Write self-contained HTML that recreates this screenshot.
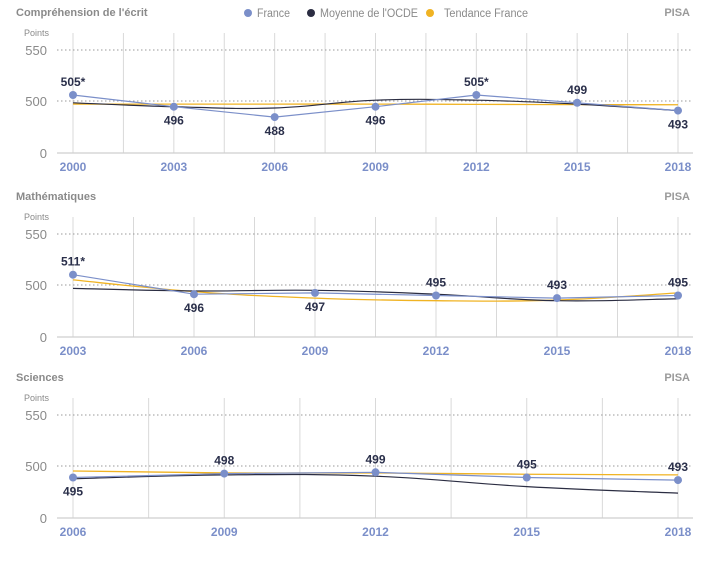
<!DOCTYPE html>
<html><head><meta charset="utf-8"><style>
body{margin:0;background:#fff;width:709px;height:562px;overflow:hidden;font-family:"Liberation Sans",sans-serif}
svg text{font-family:"Liberation Sans",sans-serif}
</style></head><body>
<svg id="c" width="709" height="562"></svg>
<script>
const readingYears=[2000,2003,2006,2009,2012,2015,2018];
const readingFrance=[505,496,488,496,505,499,493];
const readingLabels=["505*","496","488","496","505*","499","493"];
const readingOECD=[499,496,495,501,501,498,493];
const readingTrend=[498,498,498,498,497.8,497.6,497.5];
const readingPos=[1,0,0,0,1,1,0];
const mathYears=[2003,2006,2009,2012,2015,2018];
const mathFrance=[511,496,497,495,493,495];
const mathLabels=["511*","496","497","495","493","495"];
const mathOECD=[500.5,498.5,499,496,491,492.5];
const mathTrend=[507,498,493,491,491.5,497];
const mathPos=[1,0,0,1,1,1];
const sciYears=[2006,2009,2012,2015,2018];
const sciFrance=[495,498,499,495,493];
const sciLabels=["495","498","499","495","493"];
const sciOECD=[494,497,496,488,483];
const sciTrend=[500,498.5,498.5,497.5,497];
const sciPos=[0,1,1,1,1];
const yTicks=["550","500","0"];

const NS="http://www.w3.org/2000/svg";
const svg=document.getElementById('c');
function mk(tag,attrs,parent){const e=document.createElementNS(NS,tag);for(const k in attrs)e.setAttribute(k,attrs[k]);(parent||svg).appendChild(e);return e;}
function smooth(pts){let d=`M${pts[0][0]},${pts[0][1]}`;for(let i=0;i<pts.length-1;i++){const p0=pts[i-1]||pts[i],p1=pts[i],p2=pts[i+1],p3=pts[i+2]||p2;const t=0.2;d+=` C${p1[0]+(p2[0]-p0[0])*t},${p1[1]+(p2[1]-p0[1])*t} ${p2[0]-(p3[0]-p1[0])*t},${p2[1]-(p3[1]-p1[1])*t} ${p2[0]},${p2[1]}`;}return d;}

// legend
const lg=mk('g',{});


[[248,'#7b8fc9','France',33],[311,'#2b2d42','Moyenne de l\'OCDE',98],[430,'#f0b323','Tendance France',84]].forEach(([x,c,t,w])=>{
 const g=mk('g',{},lg);
 
 
 mk('circle',{cx:x,cy:13,r:4,fill:c},g);
 const tx=mk('text',{x:x+(c==='#f0b323'?14:9),y:17,'font-size':11.5,fill:'#8a8a8a',textLength:w,lengthAdjust:'spacingAndGlyphs'},g);tx.textContent=t;
});

function panel(off,title,years,fr,labels,oecd,trend,pos,yRef,name){
 const g=mk('g',{});
 
 
 const x0=73,x1=678;
 const xs=i=>x0+(x1-x0)*i/(years.length-1);
 const ys=v=>yRef-(v-500)*1.3;
 let t=mk('text',{x:16,y:off+16,'font-size':11,'font-weight':'bold',fill:'#8a8a8a'},g);t.textContent=title;
 
 
 t=mk('text',{x:690,y:off+16,'font-size':11,'font-weight':'bold',fill:'#9a9a9a','text-anchor':'end'},g);t.textContent='PISA';
 t=mk('text',{x:49,y:off+36,'font-size':9,fill:'#8a8a8a','text-anchor':'end'},g);t.textContent='Points';
 const ty=[off+50,off+101,off+153];
 for(let i=0;i<years.length*2-1;i++){const x=x0+(x1-x0)*i/(2*(years.length-1));mk('line',{x1:x,x2:x,y1:off+33,y2:off+153,stroke:'#d9d9d9','stroke-width':1},g);}
 yTicks.forEach((lab,i)=>{
  const tt=mk('text',{x:47,y:ty[i]+5,'font-size':13,fill:'#8a8a8a','text-anchor':'end'},g);tt.textContent=lab;
  
  
  if(i<2)mk('line',{x1:57,x2:693,y1:ty[i],y2:ty[i],stroke:'#9a9a9a','stroke-dasharray':'1.5,2.5','stroke-width':1},g);
 });
 mk('line',{x1:57,x2:693,y1:off+153,y2:off+153,stroke:'#cfcfcf','stroke-width':1.2},g);
 years.forEach((y,i)=>{const tt=mk('text',{x:xs(i),y:off+171,'font-size':12,'font-weight':'bold',fill:'#7b8fc9','text-anchor':'middle'},g);tt.textContent=y;
  
  });
 let p=mk('path',{d:smooth(trend.map((v,i)=>[xs(i),ys(v)])),fill:'none',stroke:'#f0b323','stroke-width':1.3},g);
 
 
 p=mk('path',{d:smooth(oecd.map((v,i)=>[xs(i),ys(v)])),fill:'none',stroke:'#2b2d42','stroke-width':1.2},g);
 
 
 p=mk('polyline',{points:fr.map((v,i)=>xs(i)+','+ys(v)).join(' '),fill:'none',stroke:'#7b8fc9','stroke-width':1.2},g);
 
 
 fr.forEach((v,i)=>{
  const c=mk('circle',{cx:xs(i),cy:ys(v),r:4,fill:'#7b8fc9'},g);
  
  
  const l=mk('text',{x:xs(i),y:pos[i]?ys(v)-9:ys(v)+18,'font-size':12,'font-weight':'bold',fill:'#2a2f4a','text-anchor':'middle'},g);l.textContent=labels[i];
  
  
 });
}
panel(0,"Compréhension de l'écrit",readingYears,readingFrance,readingLabels,readingOECD,readingTrend,readingPos,101.5,'reading');
panel(184,"Mathématiques",mathYears,mathFrance,mathLabels,mathOECD,mathTrend,mathPos,289,'math');
panel(365,"Sciences",sciYears,sciFrance,sciLabels,sciOECD,sciTrend,sciPos,471,'science');
</script>
</body></html>
